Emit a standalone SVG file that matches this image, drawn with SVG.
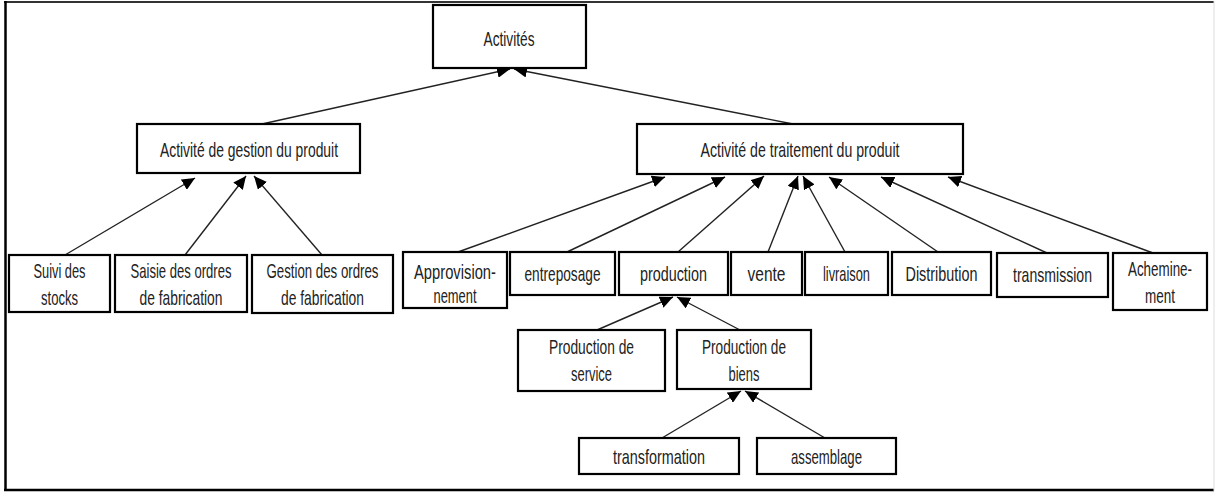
<svg xmlns="http://www.w3.org/2000/svg" width="1215" height="492" viewBox="0 0 1215 492">
<style>
.box{fill:#fff;stroke:#000;stroke-width:2.2}
.t{font-family:"Liberation Sans",Arial,sans-serif;font-size:21px;fill:#222;text-anchor:middle}
.c{stroke:#222;stroke-width:1.4;fill:none;marker-end:url(#arr)}
</style>
<defs>
<marker id="arr" markerUnits="userSpaceOnUse" markerWidth="14" markerHeight="12" refX="13" refY="6" orient="auto" viewBox="0 0 14 12">
<path d="M0,0 L13,6 L0,12 z" fill="#000"/>
</marker>
</defs>
<rect x="0" y="0" width="1215" height="492" fill="#fff"/>
<g id="frame">
<line x1="4" y1="2" x2="1214" y2="2" stroke="#333" stroke-width="2"/>
<line x1="5.5" y1="1" x2="5.5" y2="491" stroke="#000" stroke-width="2.5"/>
<line x1="4" y1="490" x2="1214" y2="490" stroke="#000" stroke-width="2.5"/>
<line x1="1214" y1="1" x2="1214" y2="491" stroke="#ddd" stroke-width="1"/>
</g>
<g id="connectors">
<line class="c" x1="262" y1="124" x2="510" y2="69"/>
<line class="c" x1="793" y1="124" x2="514" y2="69"/>
<line class="c" x1="65" y1="255" x2="195" y2="178"/>
<line class="c" x1="185" y1="255" x2="246" y2="176"/>
<line class="c" x1="322" y1="255" x2="254" y2="176"/>
<line class="c" x1="458" y1="252" x2="665" y2="177"/>
<line class="c" x1="567" y1="252" x2="725" y2="177"/>
<line class="c" x1="678" y1="252" x2="764" y2="176"/>
<line class="c" x1="768" y1="252" x2="798" y2="176"/>
<line class="c" x1="845" y1="252" x2="803" y2="176"/>
<line class="c" x1="938" y1="252" x2="829" y2="177"/>
<line class="c" x1="1047" y1="253" x2="881" y2="177"/>
<line class="c" x1="1153" y1="253" x2="948" y2="177"/>
<line class="c" x1="597" y1="330" x2="673" y2="297"/>
<line class="c" x1="740" y1="330" x2="677" y2="297"/>
<line class="c" x1="662" y1="438" x2="741" y2="391"/>
<line class="c" x1="825" y1="438" x2="745" y2="391"/>
</g>
<g id="n-activites"><rect class="box" x="433" y="5" width="153" height="63"/><text class="t" x="509" y="46" textLength="51" lengthAdjust="spacingAndGlyphs">Activités</text></g>
<g id="n-gestion"><rect class="box" x="137" y="124" width="223" height="49"/><text class="t" x="249" y="157" textLength="178" lengthAdjust="spacingAndGlyphs">Activité de gestion du produit</text></g>
<g id="n-traitement"><rect class="box" x="637" y="124" width="326" height="50"/><text class="t" x="800" y="157" textLength="199" lengthAdjust="spacingAndGlyphs">Activité de traitement du produit</text></g>
<g id="n-suivi"><rect class="box" x="9" y="255" width="101" height="57"/><text class="t" x="59.5" y="278" textLength="52" lengthAdjust="spacingAndGlyphs">Suivi des</text><text class="t" x="59.5" y="305" textLength="37" lengthAdjust="spacingAndGlyphs">stocks</text></g>
<g id="n-saisie"><rect class="box" x="115" y="255" width="132" height="57"/><text class="t" x="181" y="278" textLength="101" lengthAdjust="spacingAndGlyphs">Saisie des ordres</text><text class="t" x="181" y="305" textLength="83" lengthAdjust="spacingAndGlyphs">de fabrication</text></g>
<g id="n-gestion-ordres"><rect class="box" x="252" y="255" width="141" height="58"/><text class="t" x="322.5" y="278" textLength="112" lengthAdjust="spacingAndGlyphs">Gestion des ordres</text><text class="t" x="322.5" y="305" textLength="83" lengthAdjust="spacingAndGlyphs">de fabrication</text></g>
<g id="n-approvisionnement"><rect class="box" x="403" y="252" width="104" height="56"/><text class="t" x="455" y="279" textLength="82" lengthAdjust="spacingAndGlyphs">Approvision-</text><text class="t" x="455" y="303" textLength="43" lengthAdjust="spacingAndGlyphs">nement</text></g>
<g id="n-entreposage"><rect class="box" x="510" y="252" width="105" height="43"/><text class="t" x="562.5" y="281" textLength="76" lengthAdjust="spacingAndGlyphs">entreposage</text></g>
<g id="n-production"><rect class="box" x="619" y="252" width="109" height="43"/><text class="t" x="673.5" y="281" textLength="67" lengthAdjust="spacingAndGlyphs">production</text></g>
<g id="n-vente"><rect class="box" x="731" y="252" width="71" height="43"/><text class="t" x="766.5" y="281" textLength="38" lengthAdjust="spacingAndGlyphs">vente</text></g>
<g id="n-livraison"><rect class="box" x="805" y="252" width="83" height="43"/><text class="t" x="846.5" y="281" textLength="47" lengthAdjust="spacingAndGlyphs">livraison</text></g>
<g id="n-distribution"><rect class="box" x="892" y="252" width="99" height="43"/><text class="t" x="941.5" y="281" textLength="72" lengthAdjust="spacingAndGlyphs">Distribution</text></g>
<g id="n-transmission"><rect class="box" x="997" y="253" width="111" height="44"/><text class="t" x="1052.5" y="282" textLength="79" lengthAdjust="spacingAndGlyphs">transmission</text></g>
<g id="n-acheminement"><rect class="box" x="1113" y="253" width="94" height="57"/><text class="t" x="1160" y="276" textLength="64" lengthAdjust="spacingAndGlyphs">Achemine-</text><text class="t" x="1160" y="303" textLength="30" lengthAdjust="spacingAndGlyphs">ment</text></g>
<g id="n-prod-service"><rect class="box" x="518" y="330" width="147" height="61"/><text class="t" x="591.5" y="354" textLength="85" lengthAdjust="spacingAndGlyphs">Production de</text><text class="t" x="591.5" y="381" textLength="41" lengthAdjust="spacingAndGlyphs">service</text></g>
<g id="n-prod-biens"><rect class="box" x="677" y="330" width="134" height="59"/><text class="t" x="744" y="354" textLength="84" lengthAdjust="spacingAndGlyphs">Production de</text><text class="t" x="744" y="381" textLength="31" lengthAdjust="spacingAndGlyphs">biens</text></g>
<g id="n-transformation"><rect class="box" x="579" y="438" width="160" height="36"/><text class="t" x="659" y="464" textLength="92" lengthAdjust="spacingAndGlyphs">transformation</text></g>
<g id="n-assemblage"><rect class="box" x="757" y="438" width="139" height="36"/><text class="t" x="826.5" y="464" textLength="71" lengthAdjust="spacingAndGlyphs">assemblage</text></g>
</svg>
